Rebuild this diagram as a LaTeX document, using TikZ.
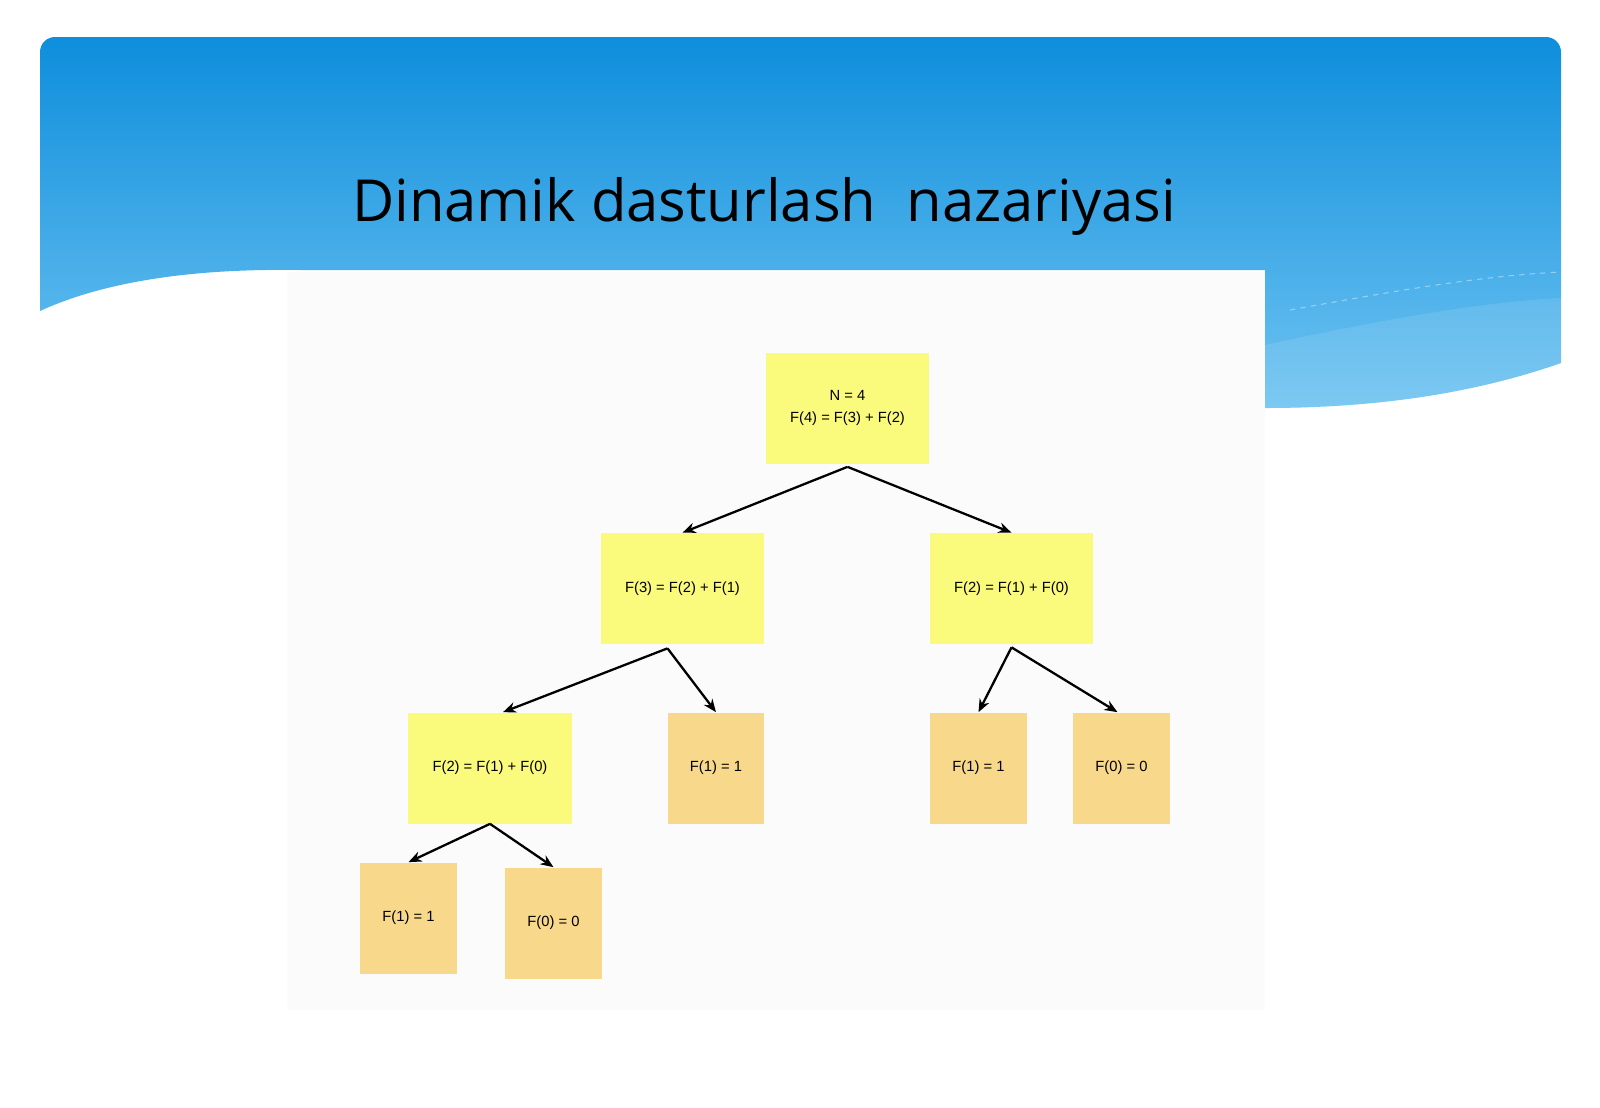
\documentclass[tikz,border=0pt]{standalone}
\usepackage{fontspec}
\setmainfont{Liberation Sans}
\newfontfamily\titlefont{Open Sans}
\usepackage{xcolor}
\usetikzlibrary{
    arrows.meta,
    shapes,
    positioning,
    calc
}
\definecolor{skytop}{HTML}{0E8EDC}
\definecolor{skybot}{HTML}{6EC3F1}
\definecolor{panelgray}{HTML}{FBFBFB}
\definecolor{noteyellow}{HTML}{FAFA7C}
\definecolor{noteorange}{HTML}{F8D98B}

\begin{document}
\begin{tikzpicture}[x=0.02cm, y=-0.02cm,
    yelbox/.style={fill=noteyellow, inner sep=0pt, minimum width=3.28cm, minimum height=2.22cm, align=center, font=\fontsize{8.4}{13}\selectfont},
    orbox/.style={yelbox, fill=noteorange, minimum width=1.94cm},
    arr/.style={-{Stealth[length=2.6mm, width=2.1mm]}, line width=1.3pt}
]
                \useasboundingbox (0,0) rectangle (1600,1107);
                \fill[white] (0,0) rectangle (1600,1107);
                \shade[top color=skytop, bottom color=skybot]
                    (40,311) -- (40,52) arc[start angle=180, end angle=90, radius=0.3cm] -- (1546,37)
                    arc[start angle=90, end angle=0, radius=0.3cm] -- (1561,363)
                    .. controls (1470,395) and (1370,408) .. (1265,408) -- (1265,270) -- (300,270)
                    .. controls (170,268) and (90,288) .. (40,311) -- cycle;
                \fill[white, opacity=.1] (1265,345) .. controls (1380,320) and (1480,302) .. (1561,298)
                    -- (1561,363) .. controls (1470,395) and (1370,408) .. (1265,408) -- cycle;
                \draw[white, opacity=.4, dashed, line width=.6pt] (1290,310) .. controls (1400,290) and (1480,276) .. (1561,272);
                \fill[panelgray] (287,272) rectangle (1265,1010);
                \node[anchor=base, font=\titlefont\fontsize{33}{40}\selectfont] (title) at (764,221) {Dinamik dasturlash~ nazariyasi};

                \node[yelbox] (root) at (847.5,408) {N = 4\\F(4) = F(3) + F(2)};
                \node[yelbox] (f3) at (682.5,588.5) {F(3) = F(2) + F(1)};
                \node[yelbox] (f2r) at (1011.5,588.5) {F(2) = F(1) + F(0)};
                \node[yelbox] (f2l) at (490,768) {F(2) = F(1) + F(0)};
                \node[orbox] (f1a) at (716,768) {F(1) = 1};
                \node[orbox] (f1b) at (978.5,768) {F(1) = 1};
                \node[orbox] (f0a) at (1121.5,768) {F(0) = 0};
                \node[orbox] (f1c) at (408.5,918) {F(1) = 1};
                \node[orbox] (f0b) at (553.5,923) {F(0) = 0};

                \draw[arr] ([yshift=-0.6mm]root.south) -- (f3.north);
                \draw[arr] ([yshift=-0.6mm]root.south) -- (f2r.north);
                \draw[arr] ([xshift=-3mm, yshift=-0.8mm]f3.south) -- ([xshift=2.6mm]f2l.north);
                \draw[arr] ([xshift=-3mm, yshift=-0.8mm]f3.south) -- (f1a.north);
                \draw[arr] ([yshift=-0.6mm]f2r.south) -- (f1b.north);
                \draw[arr] ([yshift=-0.6mm]f2r.south) -- ([xshift=-0.8mm]f0a.north);
                \draw[arr] (f2l.south) -- (f1c.north);
                \draw[arr] (f2l.south) -- (f0b.north);
            \end{tikzpicture}
\end{document}
